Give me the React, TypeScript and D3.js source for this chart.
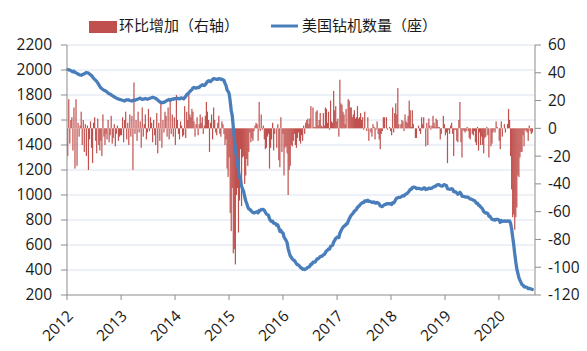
import React from "react";
import * as d3 from "d3";

// Weekly US rig count (Fridays), start 2012-01-06
const rigs2012 = [2003,2002,1999,1995,1990,1985,1990,1981,1978,1972,1968,1963,1960,1958,1962,1966,1970,1975,1980,1978,1975,1968,1962,1955,1945,1934,1925,1917,1908,1897,1882,1869,1857,1850,1844,1838,1835,1830,1824,1815,1810,1808,1800,1796,1790,1785,1780,1775,1771,1768,1765,1763];
const rigs2013 = [1760,1758,1755,1752,1758,1762,1760,1760,1756,1754,1752,1756,1760,1758,1762,1765,1768,1772,1775,1770,1764,1766,1770,1772,1768,1766,1770,1772,1776,1778,1782,1780,1776,1773,1766,1760,1752,1745,1740,1738,1742,1740,1746,1752,1756,1760,1764,1757,1762,1768,1766,1771];
const rigs2014 = [1771,1769,1774,1771,1769,1775,1777,1773,1769,1779,1789,1803,1809,1818,1828,1835,1843,1857,1861,1857,1854,1860,1858,1861,1871,1875,1882,1878,1876,1884,1896,1908,1914,1909,1907,1916,1924,1931,1930,1928,1925,1926,1931,1929,1925,1927,1920,1917,1893,1875,1840,1829];
const rigs2015 = [1811,1750,1676,1633,1543,1456,1358,1310,1267,1192,1140,1125,1069,1048,1028,988,954,932,905,888,885,875,868,859,857,859,863,866,857,876,874,884,883,885,877,862,848,842,838,809,795,787,791,775,771,771,757,760,737,709,717,700];
const rigs2016 = [698,664,650,637,619,571,541,514,502,489,480,476,464,450,443,440,431,420,415,406,408,404,408,414,421,424,431,447,447,462,463,464,476,489,491,497,508,510,511,522,524,539,553,557,569,568,588,593,597,624,637,653,658];
const rigs2017 = [665,659,694,712,729,741,751,754,768,768,789,809,824,839,847,857,870,877,885,901,908,916,927,933,941,940,952,952,950,958,949,949,946,940,943,944,936,935,940,936,928,913,909,907,915,923,923,931,930,930,931,929];
const rigs2018 = [924,939,936,947,965,975,978,981,981,984,990,995,993,1003,1008,1012,1021,1032,1045,1046,1059,1062,1062,1059,1052,1052,1054,1052,1048,1046,1049,1057,1057,1044,1048,1048,1055,1053,1052,1054,1063,1067,1068,1075,1081,1082,1083,1075,1071,1071,1080,1083];
const rigs2019 = [1078,1075,1050,1049,1045,1047,1051,1047,1027,1026,1025,1016,1006,1012,1022,1012,991,990,988,985,983,984,982,975,967,967,963,958,956,946,934,935,919,916,904,898,886,868,861,855,856,851,830,830,817,806,803,802,799,804,805,805];
const rigs2020 = [796,781,796,790,790,793,790,790,793,790,792,772,728,664,602,529,465,408,374,339,318,301,284,279,266,265,263,260,251,253,251,247,244];

// Weekly change (right axis)
const chg2012 = [-20,21,-11,6,8,-16,15,-29,21,-27,4,-6,2,12,-12,6,-17,3,-20,2,-30,-8,5,-14,-25,4,8,-9,-18,7,-12,-16,-9,-20,10,-6,-12,-4,-8,6,-10,-5,9,-11,-7,3,-13,-4,2,-9,-6,-5];
const chg2013 = [-5,8,-10,6,12,-8,4,-12,10,-6,9,-30,33,-4,6,-9,12,-3,5,-14,15,-6,3,10,-8,-3,14,-2,8,4,-10,6,-5,-12,11,-18,4,-9,18,-14,6,-3,12,9,-6,15,-8,20,-4,10,-6,8];
const chg2014 = [-12,24,6,-4,-8,5,2,-6,-5,16,-7,12,6,26,10,8,14,12,5,-6,3,8,-5,3,10,4,8,-4,2,9,19,12,6,-17,4,10,-8,15,6,-3,-5,4,9,-4,-6,5,3,-4,-12,-8,-29,-35];
const chg2015 = [-21,-61,-74,-43,-90,-87,-98,-48,-43,-75,-52,-15,-56,-21,-20,-40,-34,-22,-27,-17,-3,-10,-7,-9,-2,2,4,3,-9,19,-2,10,-1,2,-8,-15,-14,-6,-4,-29,-14,-8,4,-16,-4,0,-14,3,-23,-28,8,-17];
const chg2016 = [-4,-34,-14,-13,-18,-48,-30,-27,-12,-13,-9,-4,-12,-14,-7,-3,-9,-11,-5,-9,2,-4,4,6,7,3,7,16,0,15,1,1,12,13,2,6,11,2,1,11,2,15,14,4,12,-1,20,5,4,27,13,16,5];
const chg2017 = [7,-6,35,18,17,12,10,3,14,0,21,20,15,15,8,10,13,7,8,16,7,8,11,6,8,-1,12,0,-2,8,-9,0,-3,-6,3,1,-8,-1,5,-4,-8,-15,-4,-2,8,8,0,8,-1,0,1,-2];
const chg2018 = [-5,15,-3,11,18,10,29,3,0,3,6,5,-2,10,5,4,9,20,13,1,13,3,0,-7,-7,0,2,-2,-4,8,3,8,0,-13,4,-12,7,2,-1,2,9,4,1,7,6,1,1,-8,-4,0,9,3];
const chg2019 = [-5,-3,-25,-1,-4,2,4,-4,-20,-1,-1,-9,-10,6,19,-10,-21,-1,-2,-3,-2,1,-2,-7,-8,0,-4,-5,-2,-10,-12,1,-16,-3,-12,-6,-12,-18,-7,-6,1,-5,-21,0,-13,-11,-3,-1,-3,5,1,0];
const chg2020 = [-9,-15,5,-6,0,3,-3,0,3,14,6,-20,-44,-64,-62,-73,-64,-57,-34,-35,-21,-17,-17,-5,-13,-1,-2,-3,-9,2,-2,-4,-3];

const leftTicks = [200,400,600,800,1000,1200,1400,1600,1800,2000,2200];
const rightTicks = [-120,-100,-80,-60,-40,-20,0,20,40,60];
const yearLabels = ["2012","2013","2014","2015","2016","2017","2018","2019","2020"];
const legendBar = "环比增加（右轴）";
const legendLine = "美国钻机数量（座）";

const rigs = [...rigs2012,...rigs2013,...rigs2014,...rigs2015,...rigs2016,...rigs2017,...rigs2018,...rigs2019,...rigs2020];
const chg = [...chg2012,...chg2013,...chg2014,...chg2015,...chg2016,...chg2017,...chg2018,...chg2019,...chg2020];
const weekDate = (i: number) => new Date(2012, 0, 6 + 7 * i);

export default function App() {
  const W = 587, H = 351;
  const L = 67, R = 535, T = 45, B = 295;
  const x = d3.scaleTime().domain([new Date(2012, 0, 1), new Date(2020, 8, 1)]).range([L, R]);
  const yL = d3.scaleLinear().domain([200, 2200]).range([B, T]);
  const yR = d3.scaleLinear().domain([-120, 60]).range([B, T]);
  const line = d3.line<number>().x((_, i) => x(weekDate(i))).y(d => yL(d));
  const font = "'Open Sans', 'Liberation Sans', sans-serif";
  const cjk = "'Noto Sans CJK SC', sans-serif";
  const axisColor = "#8c8c8c";
  const textColor = "#1a1a1a";
  return (
    <svg width={W} height={H} style={{ position: "absolute", left: 0, top: 0, background: "#fff" }}>
      {leftTicks.slice(1).map(t => (
        <line key={"g" + t} x1={L} x2={R} y1={yL(t)} y2={yL(t)} stroke="#dbe3f0" strokeWidth={1} />
      ))}
      {chg.map((v, i) => {
        const xx = x(weekDate(i));
        const y0 = yR(0), y1 = yR(v);
        return <rect key={"b" + i} x={xx - 0.6} width={1.2} y={Math.min(y0, y1)} height={Math.abs(y1 - y0)} fill="#c0504d" />;
      })}
      <path d={line(rigs) || ""} fill="none" stroke="#4a7ebb" strokeWidth={3.3} strokeLinejoin="round" strokeLinecap="round" />
      {/* axes */}
      <line x1={L} x2={L} y1={T} y2={B} stroke={axisColor} />
      <line x1={R} x2={R} y1={T} y2={B} stroke={axisColor} />
      <line x1={L} x2={R} y1={B} y2={B} stroke={axisColor} />
      {leftTicks.map(t => (
        <g key={"l" + t}>
          <line x1={L - 6} x2={L} y1={yL(t)} y2={yL(t)} stroke={axisColor} />
          <text x={L - 15} y={yL(t)} dy="0.35em" textAnchor="end" fontFamily={font} fontSize={15.5} fill={textColor}>{t}</text>
        </g>
      ))}
      {rightTicks.map(t => (
        <g key={"r" + t}>
          <line x1={R} x2={R + 6} y1={yR(t)} y2={yR(t)} stroke={axisColor} />
          <text x={R + 13} y={yR(t)} dy="0.35em" textAnchor="start" fontFamily={font} fontSize={15.5} fill={textColor}>{t}</text>
        </g>
      ))}
      {yearLabels.map(y => {
        const xx = x(new Date(+y, 0, 1));
        return (
          <g key={"x" + y}>
            <line x1={xx} x2={xx} y1={B} y2={B + 5} stroke={axisColor} />
            <text transform={`translate(${xx + 7},${B + 22}) rotate(-45)`} textAnchor="end" fontFamily={font} fontSize={15.5} fill={textColor}>{y}</text>
          </g>
        );
      })}
      {/* legend */}
      <rect x={89} y={21} width={28} height={12} fill="#c0504d" />
      <text x={119} y={31} fontFamily={cjk} fontSize={15} fill={textColor}>{legendBar}</text>
      <line x1={271} x2={298} y1={26} y2={26} stroke="#4a7ebb" strokeWidth={3} />
      <text x={302} y={31} fontFamily={cjk} fontSize={15} fill={textColor}>{legendLine}</text>
    </svg>
  );
}
